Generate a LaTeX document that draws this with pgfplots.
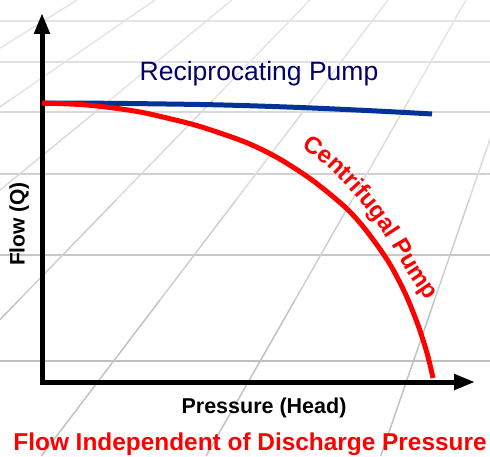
\documentclass[border=0pt]{standalone}
\usepackage{pgfplots}
\pgfplotsset{compat=1.18}
\usepackage{fontspec}
\setmainfont{Liberation Sans}
\usetikzlibrary{arrows.meta,decorations.text}
\definecolor{recblue}{RGB}{0,51,153}
\definecolor{recnavy}{RGB}{0,0,110}
\begin{document}
\begin{tikzpicture}
\begin{axis}[scale only axis, width=490bp, height=456bp,
  xmin=0, xmax=490, ymin=0, ymax=456, y dir=reverse,
  hide axis, clip=true]
% background perspective grid (horizontal lines)
\addplot[draw=black!10, line width=1.5bp] coordinates {(0,21) (490,21)};
\addplot[draw=black!12, line width=1.5bp] coordinates {(0,62) (490,62)};
\addplot[draw=black!15, line width=1.5bp] coordinates {(0,112) (490,112)};
\addplot[draw=black!18, line width=1.5bp] coordinates {(0,174) (490,174)};
\addplot[draw=black!22, line width=1.5bp] coordinates {(0,255) (490,255)};
\addplot[draw=black!25, line width=1.5bp] coordinates {(0,361) (490,361)};
% diagonal lines, segment by height
\addplot[draw=black!10, line width=1.5bp] coordinates {(77,0) (-83,100)};
\addplot[draw=black!10, line width=1.5bp] coordinates {(155,0) (10,100)};
\addplot[draw=black!14, line width=1.5bp] coordinates {(10,100) (-135,200)};
\addplot[draw=black!10, line width=1.5bp] coordinates {(232,0) (110,100)};
\addplot[draw=black!14, line width=1.5bp] coordinates {(110,100) (-12,200)};
\addplot[draw=black!10, line width=1.5bp] coordinates {(310,0) (213,100)};
\addplot[draw=black!14, line width=1.5bp] coordinates {(213,100) (116,200)};
\addplot[draw=black!19, line width=1.5bp] coordinates {(116,200) (19,300)};
\addplot[draw=black!24, line width=1.5bp] coordinates {(19,300) (-132,456)};
\addplot[draw=black!10, line width=1.5bp] coordinates {(388,0) (312,100)};
\addplot[draw=black!14, line width=1.5bp] coordinates {(312,100) (236,200)};
\addplot[draw=black!19, line width=1.5bp] coordinates {(236,200) (160,300)};
\addplot[draw=black!24, line width=1.5bp] coordinates {(160,300) (41.4,456)};
\addplot[draw=black!10, line width=1.5bp] coordinates {(466,0) (409,100)};
\addplot[draw=black!14, line width=1.5bp] coordinates {(409,100) (352,200)};
\addplot[draw=black!19, line width=1.5bp] coordinates {(352,200) (295,300)};
\addplot[draw=black!24, line width=1.5bp] coordinates {(295,300) (206,456)};
\addplot[draw=black!10, line width=1.5bp] coordinates {(538,0) (503.5,100)};
\addplot[draw=black!14, line width=1.5bp] coordinates {(503.5,100) (469,200)};
\addplot[draw=black!19, line width=1.5bp] coordinates {(469,200) (434.5,300)};
\addplot[draw=black!24, line width=1.5bp] coordinates {(434.5,300) (380.7,456)};
% axes with arrows
\draw[black, line width=5bp, line join=miter,
  {Triangle[length=21bp,width=15bp]}-{Triangle[length=21bp,width=15bp]}]
  (42,13) -- (42,382) -- (475,382);
% reciprocating pump
\addplot[recblue, line width=5bp, smooth] coordinates {
  (42,103) (110,103.3) (200,104.5) (245,105.6) (300,107.5) (350,109.7) (400,112.2) (432,114)};
% centrifugal pump
\addplot[red, line width=5bp, smooth] coordinates {
  (42,103) (80,104.5) (110,107.5) (140,112) (167,118) (200,126.5) (245,142)
  (278,158) (312,180) (345,207) (365,229) (388,261) (405,293) (418,325) (427,353) (433,378)};
% labels
\node[anchor=base, text=recnavy, font=\fontsize{26.5bp}{30bp}\selectfont] at (259,80.5) {Reciprocating Pump};
\path[decorate, decoration={text along path, text color=red,
  text={|\fontsize{24bp}{24bp}\selectfont\bfseries|Centrifugal Pump}}]
  plot[smooth] coordinates {(301,148) (326,166) (350,190) (372,216) (392,246) (410,277) (427,302) (440,330)};
\node[anchor=base, rotate=90, font=\fontsize{21bp}{25bp}\selectfont\bfseries] at (24.5,224) {Flow (Q)};
\node[anchor=base, font=\fontsize{21.5bp}{25bp}\selectfont\bfseries] at (264,413) {Pressure (Head)};
\node[anchor=base, text=red, font=\fontsize{24.4bp}{28bp}\selectfont\bfseries] at (250,450) {Flow Independent of Discharge Pressure};
\end{axis}
\end{tikzpicture}
\end{document}
